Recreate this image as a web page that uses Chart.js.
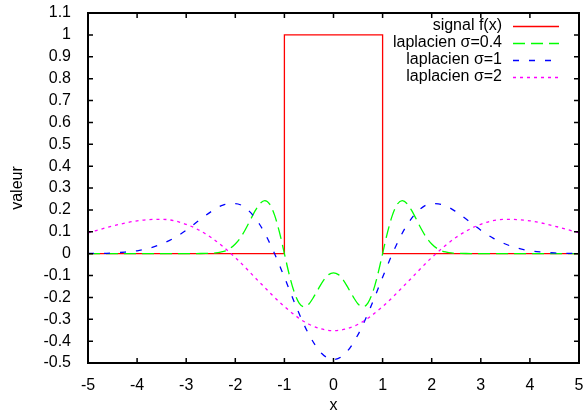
<!DOCTYPE html>
<html>
<head>
<meta charset="utf-8">
<script src="https://cdn.jsdelivr.net/npm/chart.js@4"></script>
<style>
html, body { margin: 0; padding: 0; background: #fff; }
</style>
</head>
<body>
<canvas id="chart" width="586" height="417"></canvas>
<script>
// values
var xSignal = [-5, -1, -1, 1, 1, 5];
var ySignal = [0, 0, 1, 1, 0, 0];

var xSigma04 = [-5, -4, -3, -2.8, -2.6, -2.5, -2.4, -2.3, -2.2, -2.1, -2, -1.9, -1.8, -1.7, -1.6, -1.5, -1.4, -1.3, -1.2, -1.1,
	-1, -0.9, -0.8, -0.7, -0.6, -0.5, -0.4, -0.3, -0.2, -0.1, 0, 0.1, 0.2, 0.3, 0.4, 0.5, 0.6, 0.7, 0.8, 0.9,
	1, 1.1, 1.2, 1.3, 1.4, 1.5, 1.6, 1.7, 1.8, 1.9, 2, 2.1, 2.2, 2.3, 2.4, 2.5, 2.6, 2.8, 3, 4, 5];
var ySigma04 = [0, 0, 0, 0, 0.001, 0.001, 0.003, 0.007, 0.013, 0.025, 0.044, 0.071, 0.108, 0.151, 0.194, 0.228, 0.242, 0.226, 0.176, 0.097,
	0, -0.097, -0.176, -0.226, -0.243, -0.230, -0.197, -0.158, -0.121, -0.096, -0.088, -0.096, -0.121, -0.158, -0.197, -0.230, -0.243, -0.226, -0.176, -0.097,
	0, 0.097, 0.176, 0.226, 0.242, 0.228, 0.194, 0.151, 0.108, 0.071, 0.044, 0.025, 0.013, 0.007, 0.003, 0.001, 0.001, 0, 0, 0, 0];

var xSigma1 = [-5, -4.75, -4.5, -4.25, -4, -3.75, -3.5, -3.25, -3, -2.75, -2.5, -2.25, -2, -1.75, -1.5, -1.25, -1, -0.75, -0.5, -0.25,
	0, 0.25, 0.5, 0.75, 1, 1.25, 1.5, 1.75, 2, 2.25, 2.5, 2.75, 3, 3.25, 3.5, 3.75, 4, 4.25, 4.5, 4.75, 5];
var ySigma1 = [0.001, 0.001, 0.003, 0.007, 0.013, 0.025, 0.044, 0.071, 0.107, 0.150, 0.191, 0.222, 0.229, 0.201, 0.132, 0.025, -0.108, -0.248, -0.370, -0.454,
	-0.484, -0.454, -0.370, -0.248, -0.108, 0.025, 0.132, 0.201, 0.229, 0.222, 0.191, 0.150, 0.107, 0.071, 0.044, 0.025, 0.013, 0.007, 0.003, 0.001, 0.001];

var xSigma2 = [-5, -4.5, -4, -3.5, -3, -2.5, -2, -1.5, -1, -0.5, 0, 0.5, 1, 1.5, 2, 2.5, 3, 3.5, 4, 4.5, 5];
var ySigma2 = [0.095, 0.126, 0.150, 0.157, 0.134, 0.075, -0.018, -0.132, -0.242, -0.323, -0.352, -0.323, -0.242, -0.132, -0.018, 0.075, 0.134, 0.157, 0.150, 0.126, 0.095];

var seriesLabels = ['signal f(x)', 'laplacien σ=0.4', 'laplacien σ=1', 'laplacien σ=2'];
var xTickValues = [-5, -4, -3, -2, -1, 0, 1, 2, 3, 4, 5];

function toPoints(xs, ys) {
	return xs.map(function(x, i) { return {x: x, y: ys[i]}; });
}

Chart.defaults.font.family = '"Liberation Sans", Arial, sans-serif';
Chart.defaults.font.size = 16;
Chart.defaults.color = '#000';

// gnuplot-like frame with inward ticks on all sides
var framePlugin = {
	id: 'frame',
	afterDatasetsDraw: function(chart) {
		var ctx = chart.ctx, a = chart.chartArea;
		var xs = chart.scales.x, ys = chart.scales.y;
		ctx.save();
		ctx.strokeStyle = '#000';
		ctx.lineWidth = 1.5;
		ctx.beginPath();
		xs.ticks.forEach(function(t) {
			var px = xs.getPixelForValue(t.value);
			ctx.moveTo(px, a.bottom); ctx.lineTo(px, a.bottom - 5);
			ctx.moveTo(px, a.top); ctx.lineTo(px, a.top + 5);
		});
		ys.ticks.forEach(function(t) {
			var py = ys.getPixelForValue(t.value);
			ctx.moveTo(a.left, py); ctx.lineTo(a.left + 5, py);
			ctx.moveTo(a.right, py); ctx.lineTo(a.right - 5, py);
		});
		ctx.stroke();
		ctx.lineWidth = 2;
		ctx.strokeRect(a.left, a.top, a.right - a.left, a.bottom - a.top);
		ctx.restore();
	}
};

// key in the top right corner: text then line sample
var keyPlugin = {
	id: 'key',
	afterDraw: function(chart) {
		var ctx = chart.ctx, a = chart.chartArea;
		ctx.save();
		ctx.font = '16px "Liberation Sans", Arial, sans-serif';
		ctx.textAlign = 'right';
		ctx.textBaseline = 'middle';
		chart.data.datasets.forEach(function(ds, i) {
			var yy = a.top + 13 + i * 17;
			ctx.fillStyle = '#000';
			ctx.fillText(ds.label, a.right - 77, yy);
			ctx.strokeStyle = ds.borderColor;
			ctx.lineWidth = ds.borderWidth;
			ctx.setLineDash(ds.borderDash || []);
			ctx.beginPath();
			ctx.moveTo(a.right - 66, yy + 0.5);
			ctx.lineTo(a.right - 20, yy + 0.5);
			ctx.stroke();
		});
		ctx.restore();
	}
};

var lineDefaults = { pointRadius: 0, fill: false, borderWidth: 1.3 };

new Chart(document.getElementById('chart'), {
	type: 'line',
	data: {
		datasets: [
			Object.assign({ label: seriesLabels[0], data: toPoints(xSignal, ySignal), borderColor: '#ff0000', tension: 0, order: 3 }, lineDefaults),
			Object.assign({ label: seriesLabels[1], data: toPoints(xSigma04, ySigma04), borderColor: '#00ff00', borderDash: [12, 6], cubicInterpolationMode: 'monotone', order: 2 }, lineDefaults),
			Object.assign({ label: seriesLabels[2], data: toPoints(xSigma1, ySigma1), borderColor: '#0000ff', borderDash: [6, 10], cubicInterpolationMode: 'monotone', order: 1 }, lineDefaults),
			Object.assign({ label: seriesLabels[3], data: toPoints(xSigma2, ySigma2), borderColor: '#ff00ff', borderDash: [3, 4], cubicInterpolationMode: 'monotone', order: 0 }, lineDefaults)
		]
	},
	options: {
		responsive: false,
		animation: false,
		layout: { padding: { left: 0, right: 7, top: 13, bottom: 0 } },
		plugins: { legend: { display: false }, tooltip: { enabled: false } },
		scales: {
			x: {
				type: 'linear',
				min: -5,
				max: 5,
				afterFit: function(scale) {
					scale.height = 54;
					scale.paddingLeft = 0;
					scale.paddingRight = 0;
				},
				afterBuildTicks: function(scale) { scale.ticks = xTickValues.map(function(v) { return {value: v}; }); },
				grid: { display: false },
				border: { display: false },
				ticks: { padding: 5, maxRotation: 0, autoSkip: false },
				title: { display: true, text: 'x', padding: { top: 0, bottom: 2 } }
			},
			y: {
				min: -0.5,
				max: 1.1,
				afterFit: function(scale) {
					scale.width = 88;
					scale.paddingTop = 0;
					scale.paddingBottom = 0;
				},
				grid: { display: false },
				border: { display: false },
				ticks: {
					stepSize: 0.1,
					padding: 9,
					autoSkip: false,
					callback: function(v) { return String(Math.round(v * 10) / 10); }
				},
				title: { display: true, text: 'valeur', padding: { top: 8, bottom: 0 } }
			}
		}
	},
	plugins: [framePlugin, keyPlugin]
});
</script>
</body>
</html>
